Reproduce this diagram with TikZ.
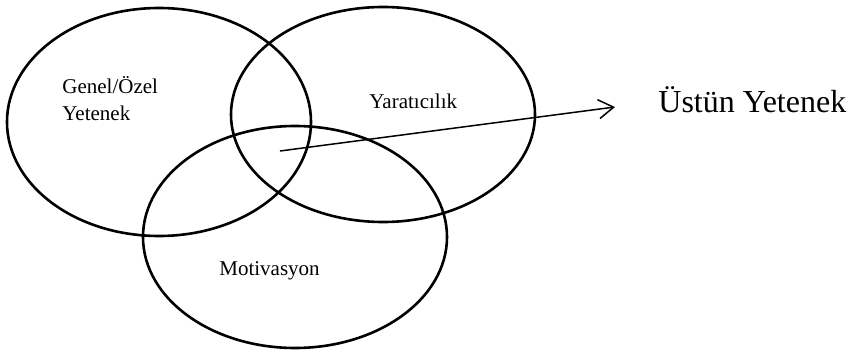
\documentclass[tikz,border=0pt]{standalone}
\usepackage{fontspec}
\setmainfont{Liberation Serif}
\usetikzlibrary{shapes.geometric, arrows.meta}

\begin{document}
\begin{tikzpicture}[x = 0.5pt, y = -0.5pt,
  ring/.style = {draw, ellipse, line width = 1.3pt, inner sep = 0pt, minimum width = 152pt},
  txt/.style = {anchor = base west, inner sep = 0pt, font = \fontsize{10.5}{13.5}\selectfont}]
%\draw [help lines, step = 50] (0, 0) grid (852, 353);
\useasboundingbox (0, 0) rectangle (852, 353);
\fill [white] (0, 0) rectangle (852, 353);
\node [ring, minimum height = 114pt] (genel) at (159, 122) {};
\node [ring, minimum height = 107.5pt] (yarat) at (383, 114.5) {};
\node [ring, minimum height = 111pt] (motiv) at (295, 237) {};
% base of a two-line node is the last line
\node [txt, align = left] (genelt) at (62, 121) {Genel/Özel\\Yetenek};
\node [txt] (yaratt) at (369, 109) {Yaratıcılık};
\node [txt] (motivt) at (219, 275) {Motivasyon};
\node [txt, font = \fontsize{16}{19}\selectfont] (ustun) at (658, 113) {Üstün Yetenek};
\coordinate (start) at (280, 151);
\coordinate (tip) at (615, 107);
\draw [line width = 0.75pt, -{Straight Barb[length = 7.5pt, width = 9.5pt]}] (start) -- (tip);
\end{tikzpicture}
\end{document}
